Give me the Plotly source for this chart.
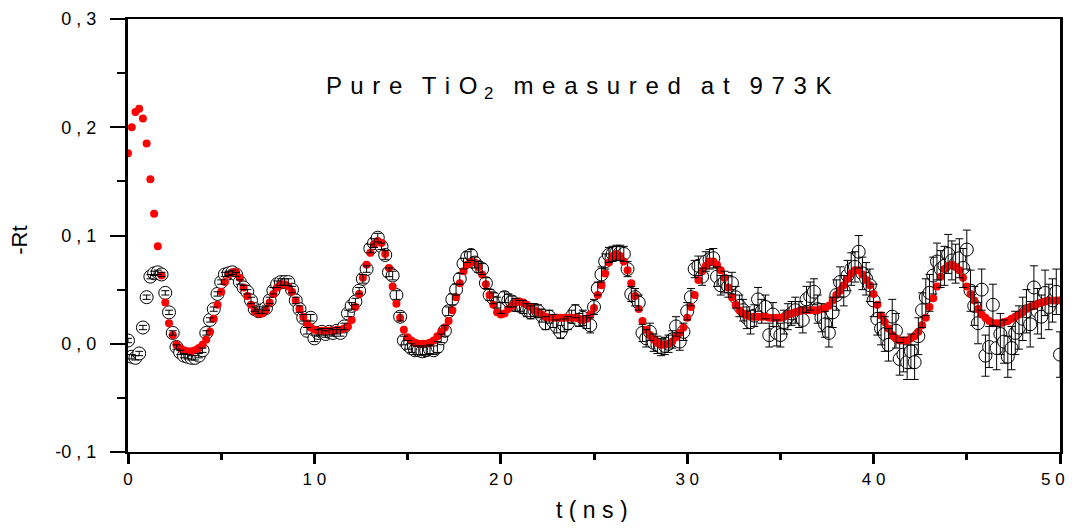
import plotly.graph_objects as go

# time channels (ns)
t_start = 0.0
t_step = 0.2
n_pts = 251
t = [round(t_start + i * t_step, 1) for i in range(n_pts)]

# measured -Rt (open circles)
rt_data = [
    0.003, -0.012, -0.013, -0.009, 0.015, 0.043, 0.062, 0.065, 0.066, 0.064,
    0.047, 0.029, 0.010, -0.003, -0.008, -0.011, -0.012, -0.013, -0.013, -0.011,
    -0.006, 0.010, 0.022, 0.032, 0.046, 0.057, 0.064, 0.065, 0.066, 0.064,
    0.057, 0.052, 0.048, 0.040, 0.032, 0.030, 0.031, 0.033, 0.040, 0.049,
    0.055, 0.057, 0.057, 0.057, 0.050, 0.040, 0.032, 0.024, 0.012, 0.024,
    0.005, 0.010, 0.011, 0.009, 0.011, 0.010, 0.012, 0.010, 0.016, 0.028,
    0.035, 0.039, 0.049, 0.060, 0.069, 0.088, 0.093, 0.098, 0.090, 0.082,
    0.066, 0.063, 0.045, 0.025, 0.003, -0.001, -0.004, -0.006, -0.006, -0.007,
    -0.006, -0.005, -0.006, -0.003, 0.005, 0.012, 0.030, 0.041, 0.050, 0.060,
    0.074, 0.080, 0.082, 0.075, 0.071, 0.069, 0.056, 0.045, 0.042, 0.038,
    0.033, 0.043, 0.040, 0.039, 0.036, 0.035, 0.034, 0.031, 0.029, 0.031,
    0.030, 0.026, 0.019, 0.025, 0.021, 0.016, 0.011, 0.017, 0.019, 0.025,
    0.030, 0.022, 0.024, 0.020, 0.017, 0.034, 0.051, 0.064, 0.076, 0.082,
    0.083, 0.084, 0.084, 0.083, 0.069, 0.046, 0.043, 0.038, 0.010, 0.005,
    0.011, 0.001, -0.001, -0.003, -0.002, 0.000, 0.004, 0.016, 0.002, 0.011,
    0.030, 0.043, 0.069, 0.072, 0.062, 0.076, 0.078, 0.079, 0.062, 0.054,
    0.057, 0.053, 0.056, 0.043, 0.035, 0.031, 0.024, 0.020, 0.026, 0.041,
    0.030, 0.034, 0.008, 0.027, 0.010, 0.008, 0.020, 0.025, 0.028, 0.031,
    0.027, 0.022, 0.041, 0.044, 0.048, 0.032, 0.024, 0.018, 0.010, 0.029,
    0.045, 0.057, 0.049, 0.063, 0.069, 0.071, 0.085, 0.065, 0.060, 0.054,
    0.040, 0.023, 0.014, 0.009, -0.001, 0.025, 0.012, -0.014, -0.010, -0.017,
    -0.007, -0.017, 0.007, 0.031, 0.043, 0.047, 0.063, 0.076, 0.069, 0.072,
    0.083, 0.077, 0.074, 0.079, 0.070, 0.087, 0.049, 0.035, 0.019, 0.050,
    -0.011, -0.003, 0.036, -0.004, 0.009, 0.002, -0.012, -0.004, 0.010, 0.015,
    0.023, 0.030, 0.018, 0.052, 0.030, 0.025, 0.047, 0.034, 0.040, 0.048,
    -0.010,
]

# error of measured -Rt
rt_err = [
    0.002, 0.002, 0.002, 0.002, 0.002, 0.002, 0.002, 0.002, 0.002, 0.002,
    0.002, 0.002, 0.002, 0.002, 0.002, 0.002, 0.002, 0.002, 0.002, 0.002,
    0.002, 0.002, 0.002, 0.002, 0.002, 0.002, 0.002, 0.002, 0.002, 0.002,
    0.002, 0.002, 0.002, 0.003, 0.002, 0.002, 0.003, 0.002, 0.003, 0.003,
    0.003, 0.003, 0.003, 0.003, 0.003, 0.003, 0.003, 0.003, 0.003, 0.003,
    0.003, 0.003, 0.003, 0.003, 0.003, 0.003, 0.003, 0.003, 0.003, 0.003,
    0.003, 0.003, 0.003, 0.004, 0.003, 0.004, 0.004, 0.004, 0.003, 0.004,
    0.004, 0.004, 0.004, 0.004, 0.004, 0.004, 0.004, 0.004, 0.004, 0.004,
    0.004, 0.004, 0.004, 0.005, 0.004, 0.005, 0.004, 0.005, 0.005, 0.005,
    0.005, 0.005, 0.005, 0.005, 0.005, 0.005, 0.005, 0.005, 0.005, 0.005,
    0.005, 0.005, 0.006, 0.005, 0.006, 0.005, 0.006, 0.006, 0.006, 0.006,
    0.006, 0.006, 0.006, 0.006, 0.006, 0.006, 0.006, 0.006, 0.006, 0.006,
    0.006, 0.006, 0.007, 0.006, 0.007, 0.007, 0.006, 0.007, 0.007, 0.007,
    0.007, 0.007, 0.007, 0.007, 0.007, 0.007, 0.008, 0.007, 0.008, 0.008,
    0.008, 0.008, 0.008, 0.008, 0.008, 0.008, 0.008, 0.009, 0.008, 0.008,
    0.008, 0.008, 0.008, 0.009, 0.008, 0.009, 0.009, 0.009, 0.009, 0.009,
    0.010, 0.010, 0.010, 0.010, 0.010, 0.010, 0.010, 0.011, 0.010, 0.011,
    0.011, 0.011, 0.011, 0.011, 0.012, 0.011, 0.011, 0.012, 0.011, 0.012,
    0.012, 0.012, 0.012, 0.013, 0.012, 0.013, 0.013, 0.012, 0.013, 0.014,
    0.014, 0.014, 0.014, 0.014, 0.015, 0.014, 0.015, 0.015, 0.015, 0.015,
    0.015, 0.015, 0.015, 0.016, 0.015, 0.016, 0.016, 0.015, 0.016, 0.016,
    0.016, 0.016, 0.017, 0.016, 0.017, 0.017, 0.017, 0.017, 0.017, 0.018,
    0.018, 0.018, 0.018, 0.018, 0.018, 0.018, 0.019, 0.018, 0.019, 0.019,
    0.019, 0.019, 0.019, 0.020, 0.019, 0.020, 0.019, 0.020, 0.020, 0.020,
    0.020, 0.020, 0.021, 0.020, 0.021, 0.020, 0.021, 0.021, 0.020, 0.021,
    0.021,
]

# fitted -Rt (red dots)
rt_fit = [
    0.176, 0.200, 0.214, 0.217, 0.208, 0.185, 0.152, 0.120, 0.090, 0.063,
    0.038, 0.019, 0.008, -0.001, -0.004, -0.006, -0.007, -0.007, -0.006, -0.004,
    -0.001, 0.004, 0.011, 0.023, 0.036, 0.048, 0.057, 0.064, 0.066, 0.066,
    0.061, 0.052, 0.044, 0.036, 0.030, 0.028, 0.028, 0.031, 0.038, 0.046,
    0.052, 0.055, 0.055, 0.053, 0.048, 0.040, 0.032, 0.025, 0.019, 0.015,
    0.013, 0.012, 0.012, 0.012, 0.012, 0.012, 0.013, 0.013, 0.014, 0.016,
    0.022, 0.034, 0.046, 0.061, 0.073, 0.084, 0.092, 0.095, 0.093, 0.083,
    0.070, 0.053, 0.037, 0.024, 0.013, 0.006, 0.003, 0.001, 0.000, 0.000,
    0.000, 0.001, 0.003, 0.007, 0.011, 0.015, 0.021, 0.031, 0.043, 0.056,
    0.067, 0.073, 0.076, 0.075, 0.071, 0.064, 0.055, 0.045, 0.036, 0.029,
    0.027, 0.028, 0.032, 0.035, 0.038, 0.039, 0.038, 0.036, 0.034, 0.031,
    0.029, 0.027, 0.025, 0.024, 0.024, 0.024, 0.024, 0.024, 0.024, 0.024,
    0.024, 0.023, 0.022, 0.023, 0.027, 0.033, 0.045, 0.054, 0.065, 0.075,
    0.081, 0.083, 0.081, 0.076, 0.068, 0.056, 0.044, 0.032, 0.021, 0.013,
    0.008, 0.004, 0.001, -0.001, -0.001, 0.000, 0.002, 0.006, 0.010, 0.015,
    0.024, 0.034, 0.045, 0.059, 0.067, 0.072, 0.076, 0.076, 0.073, 0.068,
    0.061, 0.052, 0.043, 0.036, 0.031, 0.028, 0.026, 0.025, 0.025, 0.025,
    0.025, 0.025, 0.024, 0.024, 0.024, 0.024, 0.025, 0.027, 0.028, 0.029,
    0.030, 0.031, 0.031, 0.031, 0.031, 0.031, 0.032, 0.033, 0.035, 0.040,
    0.045, 0.049, 0.054, 0.060, 0.065, 0.068, 0.068, 0.064, 0.059, 0.054,
    0.046, 0.036, 0.026, 0.020, 0.014, 0.008, 0.005, 0.003, 0.003, 0.003,
    0.005, 0.007, 0.011, 0.017, 0.024, 0.034, 0.042, 0.053, 0.062, 0.069,
    0.072, 0.073, 0.071, 0.068, 0.061, 0.053, 0.046, 0.040, 0.032, 0.027,
    0.024, 0.021, 0.019, 0.019, 0.019, 0.020, 0.021, 0.023, 0.025, 0.027,
    0.029, 0.032, 0.034, 0.035, 0.037, 0.038, 0.039, 0.040, 0.040, 0.040,
    0.040,
]

x_tickvals = [0, 10, 20, 30, 40, 50]
x_ticktext = ["0", "1 0", "2 0", "3 0", "4 0", "5 0\u00a0\u00a0\u00a0"]
y_tickvals = [-0.1, 0.0, 0.1, 0.2, 0.3]
y_ticktext = ["-0 , 1", "0 , 0", "0 , 1", "0 , 2", "0 , 3"]

FONT = "Liberation Sans"
HS = " \u200a"  # letter spacing
WS = "   "      # word spacing


def spaced(word):
    return HS.join(list(word))


title_text = (spaced("Pure") + WS + spaced("TiO") + " <sub>2</sub>" + WS
              + spaced("measured") + WS + spaced("at") + WS + spaced("973K"))

fig = go.Figure()

# open circles
fig.add_trace(go.Scatter(
    x=t, y=rt_data, mode="markers",
    marker=dict(symbol="circle", size=13, color="white",
                line=dict(color="black", width=1)),
    showlegend=False,
))
# fit
fig.add_trace(go.Scatter(
    x=t, y=rt_fit, mode="markers",
    marker=dict(symbol="circle", size=8, color="#ff0000", line=dict(width=0)),
    showlegend=False,
))
# error bars on top
fig.add_trace(go.Scatter(
    x=t, y=rt_data, mode="markers",
    marker=dict(size=1, opacity=0),
    error_y=dict(type="data", array=rt_err, visible=True,
                 color="black", thickness=1, width=4),
    showlegend=False,
))

fig.update_layout(
    width=1058, height=514,
    margin=dict(l=120, r=6, t=11, b=70, autoexpand=False),
    plot_bgcolor="white", paper_bgcolor="white",
    font=dict(family=FONT, color="black", size=17),
    xaxis=dict(
        range=[0, 50], showgrid=False, zeroline=False, automargin=False,
        showline=True, linecolor="black", linewidth=2, mirror=True,
        tickmode="array", tickvals=x_tickvals, ticktext=x_ticktext,
        ticks="outside", ticklen=10, tickwidth=3, tickcolor="black",
        minor=dict(dtick=5, tick0=0, ticks="outside", ticklen=6,
                   tickwidth=3, tickcolor="black"),
        tickfont=dict(size=17, family=FONT, color="black"),
        ticklabelstandoff=1,
        ticklabeloverflow="allow",
    ),
    yaxis=dict(
        range=[-0.1, 0.3], showgrid=False, zeroline=False, automargin=False,
        showline=True, linecolor="black", linewidth=3, mirror=True,
        tickmode="array", tickvals=y_tickvals, ticktext=y_ticktext,
        ticks="outside", ticklen=15, tickwidth=2, tickcolor="black",
        minor=dict(dtick=0.05, tick0=0, ticks="outside", ticklen=8,
                   tickwidth=2, tickcolor="black"),
        tickfont=dict(size=18, family=FONT, color="black"),
        ticklabelstandoff=10,
    ),
    annotations=[
        dict(text=title_text,
             xref="paper", yref="paper", x=0.484, y=0.841,
             xanchor="center", yanchor="middle", showarrow=False,
             font=dict(size=24, family=FONT, color="black")),
        dict(text="-Rt", xref="paper", yref="paper", x=-0.116, y=0.49,
             xanchor="center", yanchor="middle", showarrow=False, textangle=-90,
             font=dict(size=22, family=FONT, color="black")),
        dict(text="t ( n s )", xref="paper", yref="paper", x=0.498, y=-0.134,
             xanchor="center", yanchor="middle", showarrow=False,
             font=dict(size=23, family=FONT, color="black")),
    ],
)

fig.write_html("out.html")
